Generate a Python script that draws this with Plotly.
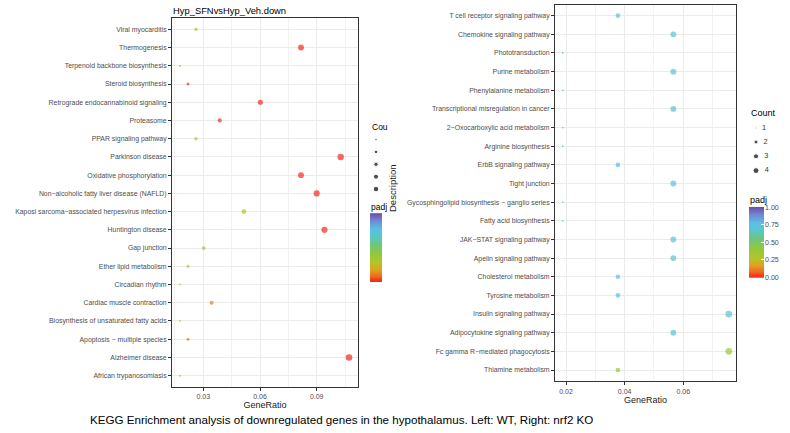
import numpy as np
import plotly.graph_objects as go

# ---------------- data ----------------
left_terms = [
    "Viral myocarditis", "Thermogenesis", "Terpenoid backbone biosynthesis",
    "Steroid biosynthesis", "Retrograde endocannabinoid signaling", "Proteasome",
    "PPAR signaling pathway", "Parkinson disease", "Oxidative phosphorylation",
    "Non\u2212alcoholic fatty liver disease (NAFLD)",
    "Kaposi sarcoma\u2212associated herpesvirus infection", "Huntington disease",
    "Gap junction", "Ether lipid metabolism", "Circadian rhythm",
    "Cardiac muscle contraction", "Biosynthesis of unsaturated fatty acids",
    "Apoptosis \u2212 multiple species", "Alzheimer disease", "African trypanosomiasis",
]
left_ratio = [0.0261, 0.0817, 0.0177, 0.0219, 0.0602, 0.0387, 0.0261, 0.1027, 0.0817,
              0.0900, 0.0515, 0.0941, 0.0302, 0.0219, 0.0177, 0.0344, 0.0177, 0.0219,
              0.1071, 0.0177]
left_count = [6, 19, 4, 5, 14, 9, 6, 24, 19, 21, 12, 22, 7, 5, 4, 8, 4, 5, 25, 4]
left_padj = [0.36, 0.01, 0.16, 0.02, 0.01, 0.02, 0.36, 0.01, 0.01, 0.01, 0.35, 0.01,
             0.36, 0.34, 0.30, 0.12, 0.30, 0.11, 0.01, 0.30]

right_terms = [
    "T cell receptor signaling pathway", "Chemokine signaling pathway", "Phototransduction",
    "Purine metabolism", "Phenylalanine metabolism", "Transcriptional misregulation in cancer",
    "2\u2212Oxocarboxylic acid metabolism", "Arginine biosynthesis", "ErbB signaling pathway",
    "Tight junction", "Gycosphingolipid biosynthesis \u2212 ganglio series",
    "Fatty acid biosynthesis", "JAK\u2212STAT signaling pathway", "Apelin signaling pathway",
    "Cholesterol metabolism", "Tyrosine metabolism", "Insulin signaling pathway",
    "Adipocytokine signaling pathway", "Fc gamma R\u2212mediated phagocytosis",
    "Thiamine metabolism",
]
right_ratio = [0.0377, 0.0566, 0.0189, 0.0566, 0.0189, 0.0566, 0.0189, 0.0189, 0.0377,
               0.0566, 0.0189, 0.0189, 0.0566, 0.0566, 0.0377, 0.0377, 0.0755, 0.0566,
               0.0755, 0.0377]
right_count = [2, 3, 1, 3, 1, 3, 1, 1, 2, 3, 1, 1, 3, 3, 2, 2, 4, 3, 4, 2]
right_padj = [0.73, 0.73, 0.73, 0.73, 0.73, 0.73, 0.73, 0.73, 0.73, 0.73, 0.73, 0.73,
              0.73, 0.73, 0.73, 0.73, 0.73, 0.73, 0.37, 0.37]

left_count_breaks = [5, 10, 15, 20, 25]
right_count_breaks = [1, 2, 3, 4]
padj_ticks = [0.0, 0.25, 0.5, 0.75, 1.0]

title_left = "Hyp_SFNvsHyp_Veh.down"
caption = "KEGG Enrichment analysis of downregulated genes in the hypothalamus. Left: WT, Right: nrf2 KO"

# ---------------- style ----------------
W, H = 790, 433
FONT = "Liberation Sans, Arial, sans-serif"
GRAY = "#4D4D4D"
colorscale = [
    [0.00, "#F81E1E"], [0.08, "#F06A20"], [0.17, "#E0A020"], [0.27, "#B4C42A"],
    [0.40, "#94C83A"], [0.55, "#6CC67C"], [0.68, "#57C7D0"], [0.78, "#5DBDE8"],
    [0.90, "#6F86D0"], [1.00, "#6A4FA8"],
]


def size_map(c, cmin, cmax, dmin, dmax):
    c = np.asarray(c, dtype=float)
    return dmin + (dmax - dmin) * np.sqrt((c - cmin) / (cmax - cmin))


def px_x(a, b):
    return [a / W, b / W]


def px_y(top, bottom):
    return [1 - bottom / H, 1 - top / H]


L_MIN, L_MAX = min(left_count), max(left_count)
R_MIN, R_MAX = min(right_count), max(right_count)
left_size = size_map(left_count, L_MIN, L_MAX, 2.0, 6.6)
right_size = size_map(right_count, R_MIN, R_MAX, 1.8, 6.8)

fig = go.Figure()
fig.add_trace(go.Scatter(
    x=left_ratio, y=left_terms, mode="markers", xaxis="x", yaxis="y",
    marker=dict(size=left_size, color=left_padj, colorscale=colorscale, cmin=0, cmax=1,
                showscale=False, line=dict(width=0)),
    showlegend=False, hoverinfo="x+y"))
fig.add_trace(go.Scatter(
    x=right_ratio, y=right_terms, mode="markers", xaxis="x2", yaxis="y2",
    marker=dict(size=right_size, color=right_padj, colorscale=colorscale, cmin=0, cmax=1,
                showscale=False, line=dict(width=0)),
    showlegend=False, hoverinfo="x+y"))

# pixel overlay axis for the size legends
lx = [376] * len(left_count_breaks)
ly = [139.5 + 12.4 * i for i in range(len(left_count_breaks))]
fig.add_trace(go.Scatter(
    x=lx, y=ly, mode="markers", xaxis="x3", yaxis="y3",
    marker=dict(size=size_map(left_count_breaks, L_MIN, L_MAX, 1.5, 6.5) * 0.85, color="black"),
    showlegend=False, hoverinfo="skip"))
rx = [756] * len(right_count_breaks)
ry = [127.7 + 14.3 * i for i in range(len(right_count_breaks))]
fig.add_trace(go.Scatter(
    x=rx, y=ry, mode="markers+text", xaxis="x3", yaxis="y3",
    text=["  " + str(b) for b in right_count_breaks], textposition="middle right",
    textfont=dict(family=FONT, size=7.3, color="#333333"),
    marker=dict(size=size_map(right_count_breaks, R_MIN, R_MAX, 1.5, 6.5) * 0.9, color="black"),
    showlegend=False, hoverinfo="skip", cliponaxis=False))

# colour bars (legend guides) drawn as thin heatmaps
grad = np.linspace(0, 1, 101)
for xa, ya in (("x4", "y4"), ("x5", "y5")):
    fig.add_trace(go.Heatmap(
        z=[[v] for v in grad], x=[0], y=grad, xaxis=xa, yaxis=ya,
        colorscale=colorscale, zmin=0, zmax=1, showscale=False, hoverinfo="skip"))

axis_common = dict(
    showline=True, mirror=True, linecolor="#333333", linewidth=1,
    ticks="outside", ticklen=3, tickcolor="#333333", tickwidth=1,
    tickfont=dict(family=FONT, size=7, color=GRAY),
    showgrid=True, gridcolor="#EBEBEB", gridwidth=1, zeroline=False, automargin=False,
)
hidden = dict(visible=False, fixedrange=True, automargin=False, showgrid=False, zeroline=False)

n_l = len(left_terms)
n_r = len(right_terms)

fig.update_layout(
    width=W, height=H, margin=dict(l=0, r=0, t=0, b=0, autoexpand=False),
    paper_bgcolor="white", plot_bgcolor="rgba(0,0,0,0)",
    font=dict(family=FONT),
    xaxis=dict(axis_common, domain=px_x(172, 358), range=[0.01343, 0.11186],
               tick0=0, dtick=0.03, tickformat=".2f",
               minor=dict(dtick=0.015, tick0=0, showgrid=True, gridcolor="#F2F2F2", gridwidth=0.6, ticks=""),
               title=dict(text="GeneRatio", font=dict(family=FONT, size=9, color="#1A1A1A"), standoff=1),
               anchor="y"),
    yaxis=dict(axis_common, domain=px_y(18.4, 386.6),
               type="category", categoryorder="array", categoryarray=list(reversed(left_terms)),
               range=[-0.6, n_l - 0.4], tickfont=dict(family=FONT, size=6.9, color=GRAY),
               anchor="x"),
    xaxis2=dict(axis_common, domain=px_x(555, 736), range=[0.01625, 0.07796],
                tick0=0, dtick=0.02, tickformat=".2f",
                minor=dict(dtick=0.01, tick0=0, showgrid=True, gridcolor="#F2F2F2", gridwidth=0.6, ticks=""),
                title=dict(text="GeneRatio", font=dict(family=FONT, size=9, color="#1A1A1A"), standoff=1),
                anchor="y2"),
    yaxis2=dict(axis_common, domain=px_y(4.5, 381.2),
                type="category", categoryorder="array", categoryarray=list(reversed(right_terms)),
                range=[-0.6, n_r - 0.4], tickfont=dict(family=FONT, size=6.9, color=GRAY),
                anchor="x2"),
    xaxis3=dict(hidden, domain=[0, 1], range=[0, W], anchor="y3"),
    yaxis3=dict(hidden, domain=[0, 1], range=[H, 0], anchor="x3"),
    xaxis4=dict(hidden, domain=px_x(370, 382), range=[-0.5, 0.5], anchor="y4"),
    yaxis4=dict(hidden, domain=px_y(213, 282), range=[-0.008, 1.008], anchor="x4"),
    xaxis5=dict(hidden, domain=px_x(749, 764), range=[-0.5, 0.5], anchor="y5"),
    yaxis5=dict(domain=px_y(206.7, 277.7), range=[-0.008, 1.008], anchor="x5", side="right",
                fixedrange=True, automargin=False, showgrid=False, zeroline=False, showline=False,
                tickvals=padj_ticks, ticktext=[f"{v:.2f}" for v in padj_ticks],
                ticks="inside", ticklen=3, tickcolor="white", tickwidth=1,
                tickfont=dict(family=FONT, size=7.1, color=GRAY)),
)

ann = [
    dict(text=title_left, x=171 / W, y=1 - 10 / H, xanchor="left", yanchor="middle",
         font=dict(family=FONT, size=9.4, color="black")),
    dict(text="Cou", x=370 / W, y=1 - 127 / H, xanchor="left", yanchor="middle",
         font=dict(family=FONT, size=8.5, color="black")),
    dict(text="padj", x=369 / W, y=1 - 207 / H, xanchor="left", yanchor="middle",
         font=dict(family=FONT, size=8.5, color="black")),
    dict(text="Count", x=749 / W, y=1 - 113 / H, xanchor="left", yanchor="middle",
         font=dict(family=FONT, size=9, color="black")),
    dict(text="padj", x=748 / W, y=1 - 200 / H, xanchor="left", yanchor="middle",
         font=dict(family=FONT, size=9, color="black")),
    dict(text="Description", x=392 / W, y=1 - 188 / H, xanchor="center", yanchor="middle",
         textangle=-90, font=dict(family=FONT, size=9.5, color="#1A1A1A")),
    dict(text=caption, x=88 / W, y=1 - 419 / H, xanchor="left", yanchor="middle",
         font=dict(family=FONT, size=11.6, color="black")),
]
for a in ann:
    a.update(xref="paper", yref="paper", showarrow=False)
fig.update_layout(annotations=ann)

fig.write_html(
    "out.html",
    config={"displayModeBar": False},
    post_script="document.body.style.margin='0';document.body.style.padding='0';"
                "document.documentElement.style.overflow='hidden';",
)
